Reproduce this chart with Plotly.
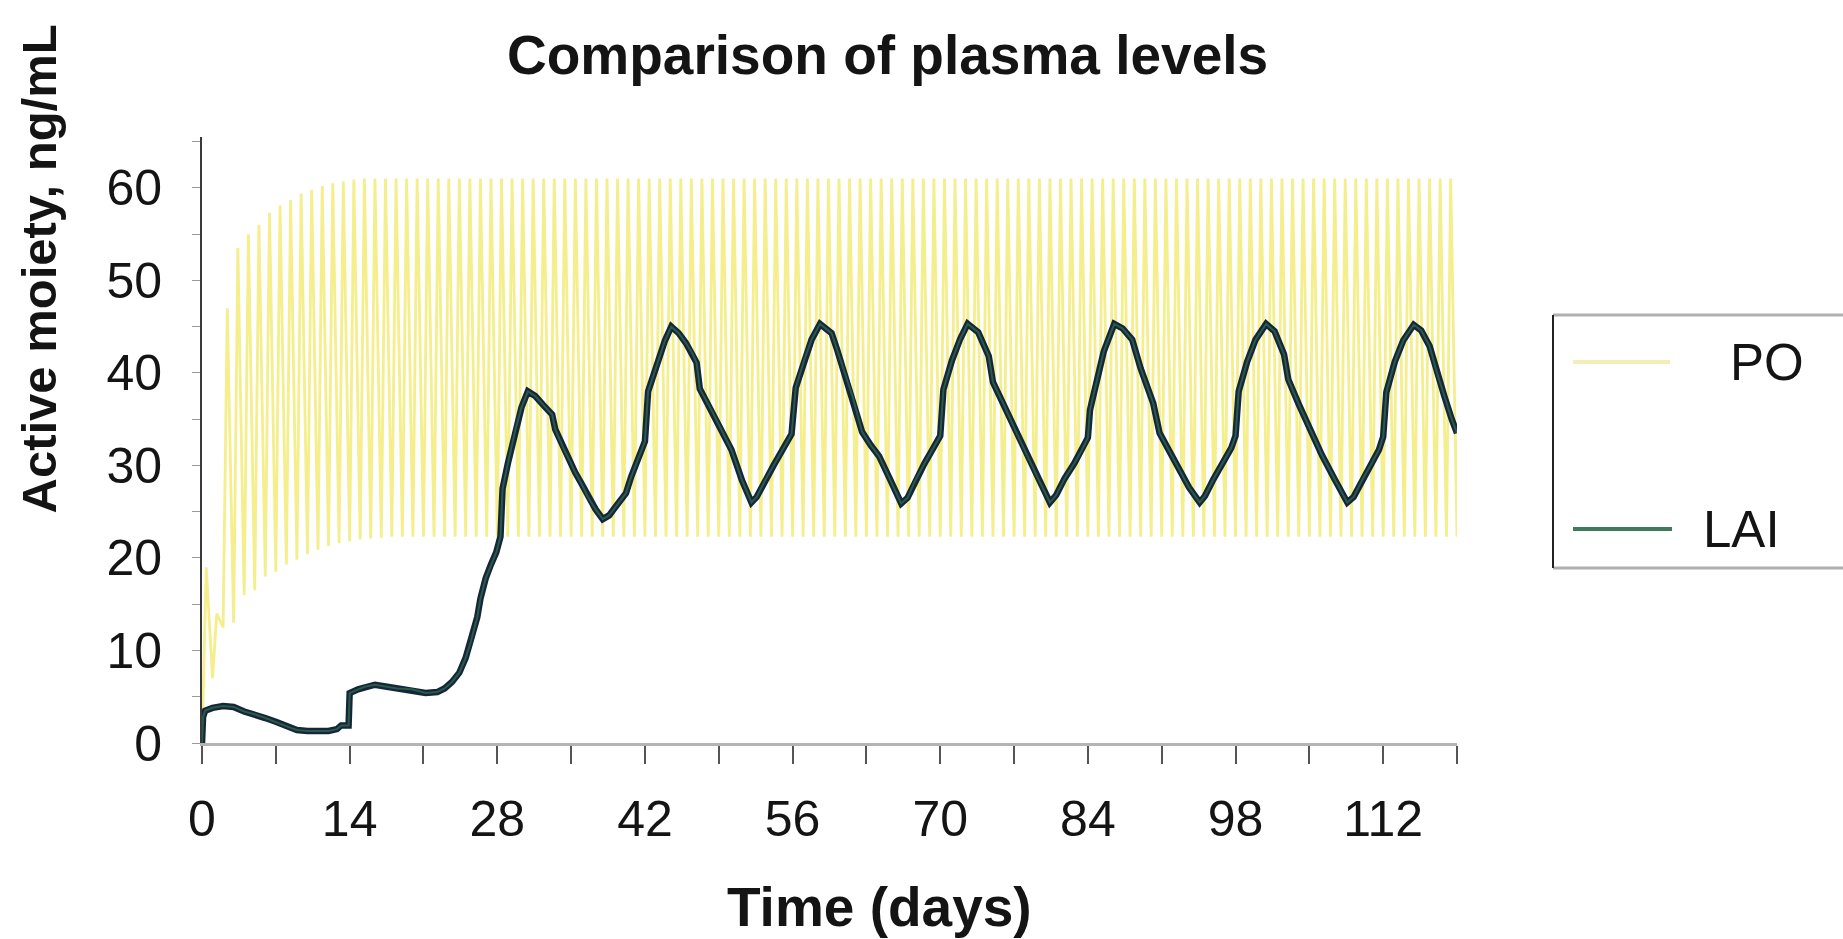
import plotly.graph_objects as go

# ---------------- data ----------------
# PO (oral, once daily): level at dosing time (trough) and post-dose peak, per day 0..119
po_dose_day = list(range(0, 120))
po_trough = [
    0, 7, 12.5, 13, 16, 16.5, 18, 18.5, 19.3, 19.8, 20.4, 20.9, 21.3, 21.6,
    21.8, 22.0, 22.1, 22.2, 22.3, 22.3, 22.3, 22.3, 22.3, 22.3, 22.3, 22.3, 22.3, 22.3,
    22.3, 22.3, 22.3, 22.3, 22.3, 22.3, 22.3, 22.3, 22.3, 22.3, 22.3, 22.3, 22.3, 22.3,
    22.3, 22.3, 22.3, 22.3, 22.3, 22.3, 22.3, 22.3, 22.3, 22.3, 22.3, 22.3, 22.3, 22.3,
    22.3, 22.3, 22.3, 22.3, 22.3, 22.3, 22.3, 22.3, 22.3, 22.3, 22.3, 22.3, 22.3, 22.3,
    22.3, 22.3, 22.3, 22.3, 22.3, 22.3, 22.3, 22.3, 22.3, 22.3, 22.3, 22.3, 22.3, 22.3,
    22.3, 22.3, 22.3, 22.3, 22.3, 22.3, 22.3, 22.3, 22.3, 22.3, 22.3, 22.3, 22.3, 22.3,
    22.3, 22.3, 22.3, 22.3, 22.3, 22.3, 22.3, 22.3, 22.3, 22.3, 22.3, 22.3, 22.3, 22.3,
    22.3, 22.3, 22.3, 22.3, 22.3, 22.3, 22.3, 22.3,
]
po_peak = [
    19, 14, 47, 53.5, 55, 56, 57.3, 58.1, 58.7, 59.4, 59.8, 60.2, 60.5, 60.7,
    60.9, 61, 61, 61, 61, 61, 61, 61, 61, 61, 61, 61, 61, 61,
    61, 61, 61, 61, 61, 61, 61, 61, 61, 61, 61, 61, 61, 61,
    61, 61, 61, 61, 61, 61, 61, 61, 61, 61, 61, 61, 61, 61,
    61, 61, 61, 61, 61, 61, 61, 61, 61, 61, 61, 61, 61, 61,
    61, 61, 61, 61, 61, 61, 61, 61, 61, 61, 61, 61, 61, 61,
    61, 61, 61, 61, 61, 61, 61, 61, 61, 61, 61, 61, 61, 61,
    61, 61, 61, 61, 61, 61, 61, 61, 61, 61, 61, 61, 61, 61,
    61, 61, 61, 61, 61, 61, 61, 61,
]
PO_TMAX = 0.4  # days from dose to peak

# LAI (long-acting injection, every 2 weeks)
lai_day = [
    0, 0.1, 0.3, 1, 2, 3, 4, 5, 6, 7, 7.8, 8.5, 9, 10, 11, 12, 12.8, 13.2, 13.9,
    14.0, 14.8, 15.5, 16.4, 17.4, 18.5, 19.9, 21.2, 22.3, 23.0, 23.7, 24.4, 25.0,
    25.5, 26.1, 26.4, 26.9, 27.4, 27.9, 28.3, 28.5, 29.0, 29.7, 30.3, 30.9, 31.6,
    32.3, 33.2, 33.5, 34.3, 35.0, 35.4, 36.0, 36.6, 37.3, 38.0, 38.6, 39.2, 40.2,
    40.7, 41.4, 42.0, 42.3, 42.8, 43.3, 43.9, 44.5, 45.2, 45.9, 46.5, 46.9, 47.2,
    48.3, 49.2, 50.2, 51.2, 52.1, 52.6, 53.4, 54.2, 55.0, 55.9, 56.3, 57.1, 57.8,
    58.6, 59.7, 60.2, 60.7, 61.7, 62.6, 63.4, 64.2, 65.2, 66.3, 66.9, 67.6, 68.5,
    69.3, 70.0, 70.3, 71.1, 71.9, 72.6, 73.6, 74.6, 75.0, 76.1, 77.2, 78.3, 79.4,
    80.4, 81.0, 81.8, 82.7, 83.4, 84.0, 84.2, 84.8, 85.5, 86.5, 87.3, 88.2, 89.0,
    90.2, 90.8, 91.7, 92.7, 93.6, 94.6, 95.1, 95.9, 96.8, 97.6, 98.0, 98.3, 99.1,
    99.9, 100.9, 101.7, 102.6, 103.0, 104.0, 105.1, 106.2, 107.4, 108.6, 109.2,
    110.0, 110.9, 111.6, 112.0, 112.3, 113.1, 113.9, 114.9, 115.6, 116.4, 117.0,
    117.8, 118.5, 119.0,
]
lai_level = [
    0, 2.8, 3.5, 3.8, 4.0, 3.9, 3.4, 3.1, 2.7, 2.3, 1.9, 1.6, 1.4, 1.3, 1.3, 1.3, 1.5, 1.9, 1.9,
    5.4, 5.8, 6.1, 6.3, 6.1, 5.9, 5.8, 5.4, 5.5, 5.9, 6.6, 7.6, 9.2,
    11.0, 13.6, 15.6, 17.8, 19.3, 20.6, 22.3, 27.5, 30.2, 33.8, 36.3, 38.0, 37.5,
    36.6, 35.5, 33.9, 31.8, 30.2, 29.2, 28.0, 26.6, 25.3, 24.2, 24.6, 25.5, 27.0,
    28.8, 30.8, 32.6, 38.0, 39.8, 41.5, 43.5, 45.0, 44.3, 43.2, 42.1, 41.1, 38.3,
    36.0, 34.0, 31.7, 28.4, 26.0, 26.6, 28.4, 30.0, 31.6, 33.4, 38.4, 41.4, 43.6,
    45.3, 44.3, 42.6, 40.7, 37.4, 33.6, 32.2, 31.0, 28.6, 25.9, 26.5, 28.3, 30.2,
    31.8, 33.2, 38.2, 41.3, 43.7, 45.3, 44.4, 41.8, 39.0, 36.4, 33.6, 30.9, 28.3,
    26.0, 26.8, 28.6, 30.2, 31.6, 33.0, 36.0, 38.9, 42.3, 45.3, 44.8, 43.6, 40.5,
    36.7, 33.5, 31.6, 29.5, 27.6, 26.0, 26.7, 28.5, 30.3, 31.9, 33.2, 38.0, 41.2,
    43.6, 45.3, 44.5, 42.0, 39.3, 36.6, 33.8, 31.1, 28.5, 26.0, 26.6,
    28.4, 30.2, 31.7, 33.1, 37.9, 41.2, 43.5, 45.2, 44.6, 42.9, 40.4,
    37.5, 35.0, 33.5,
]

x_tick_vals = [0, 7, 14, 21, 28, 35, 42, 49, 56, 63, 70, 77, 84, 91, 98, 105, 112, 119]
x_tick_text = ["0", "", "14", "", "28", "", "42", "", "56", "", "70", "", "84", "", "98", "", "112", ""]
y_tick_vals = [0, 5, 10, 15, 20, 25, 30, 35, 40, 45, 50, 55, 60, 65]
y_tick_text = ["0", "", "10", "", "20", "", "30", "", "40", "", "50", "", "60", ""]

TITLE = "Comparison of plasma levels"
X_TITLE = "Time (days)"
Y_TITLE = "Active moiety, ng/mL"
SERIES = ["PO", "LAI"]

# ---------------- build PO time course (trough -> peak per dose) ----------------
po_x, po_y = [], []
for d, tr, pk in zip(po_dose_day, po_trough, po_peak):
    po_x += [d, d + PO_TMAX]
    po_y += [tr, pk]

# ---------------- layout geometry (pixels) ----------------
W, H = 1843, 939
L, R, T, B = 202, 386, 137, 196
PW, PH = W - L - R, H - T - B


def px(x):
    return (x - L) / PW


def py(y):
    return (H - B - y) / PH


FONT = "Liberation Sans, Arial, sans-serif"
TXT = "#141414"

fig = go.Figure()
fig.add_trace(go.Scatter(
    x=po_x, y=po_y, mode="lines", name=SERIES[0], showlegend=False,
    line=dict(color="rgba(238,228,70,0.62)", width=2.8), hoverinfo="skip",
))
fig.add_trace(go.Scatter(
    x=lai_day, y=lai_level, mode="lines", name=SERIES[1], showlegend=False,
    line=dict(color="#15263a", width=6.5), hoverinfo="skip",
))
fig.add_trace(go.Scatter(
    x=lai_day, y=lai_level, mode="lines", name=SERIES[1] + " core", showlegend=False,
    line=dict(color="#2a5a48", width=2), hoverinfo="skip",
))

fig.update_layout(
    width=W, height=H, autosize=False,
    margin=dict(l=L, r=R, t=T, b=B, pad=0),
    paper_bgcolor="white", plot_bgcolor="white",
    showlegend=False,
    font=dict(family=FONT, color=TXT),
)
fig.update_xaxes(
    range=[0, 119], showgrid=False, zeroline=False,
    showline=True, linecolor="#b4b4b4", linewidth=3,
    ticks="outside", ticklen=18, tickwidth=1.5, tickcolor="#555555",
    tickvals=x_tick_vals, ticktext=x_tick_text,
    tickfont=dict(family=FONT, size=50, color=TXT), ticklabelstandoff=12,
)
fig.update_yaxes(
    range=[0, 65.5], showgrid=False, zeroline=False,
    showline=True, linecolor="#3a3a3a", linewidth=2,
    ticks="outside", ticklen=8, tickwidth=1, tickcolor="#9a9a9a",
    tickvals=y_tick_vals, ticktext=y_tick_text,
    tickfont=dict(family=FONT, size=50, color=TXT), ticklabelstandoff=20,
)

annotations = [
    dict(text="<b>%s</b>" % TITLE, x=px(887), y=py(55), xref="paper", yref="paper",
         xanchor="center", yanchor="middle", showarrow=False,
         font=dict(family=FONT, size=55, color=TXT)),
    dict(text="<b>%s</b>" % X_TITLE, x=px(879), y=py(907), xref="paper", yref="paper",
         xanchor="center", yanchor="middle", showarrow=False,
         font=dict(family=FONT, size=55, color=TXT)),
    dict(text="<b>%s</b>" % Y_TITLE, x=px(38), y=py(516), xref="paper", yref="paper",
         xanchor="center", yanchor="bottom", textangle=-90, showarrow=False,
         font=dict(family=FONT, size=49, color=TXT)),
    dict(text=SERIES[0], x=px(1728), y=py(362), xref="paper", yref="paper",
         xanchor="left", yanchor="middle", showarrow=False,
         font=dict(family=FONT, size=51, color=TXT)),
    dict(text=SERIES[1], x=px(1701), y=py(529), xref="paper", yref="paper",
         xanchor="left", yanchor="middle", showarrow=False,
         font=dict(family=FONT, size=51, color=TXT)),
]
shapes = [
    dict(type="line", xref="paper", yref="paper", x0=px(1553), x1=px(1850), y0=py(315), y1=py(315),
         line=dict(color="#b0b0b0", width=3)),
    dict(type="line", xref="paper", yref="paper", x0=px(1553), x1=px(1850), y0=py(568), y1=py(568),
         line=dict(color="#b0b0b0", width=3)),
    dict(type="line", xref="paper", yref="paper", x0=px(1553), x1=px(1553), y0=py(568), y1=py(315),
         line=dict(color="#222222", width=2)),
    dict(type="line", xref="paper", yref="paper", x0=px(1573), x1=px(1670), y0=py(362), y1=py(362),
         line=dict(color="#f2eeb4", width=4)),
    dict(type="line", xref="paper", yref="paper", x0=px(1573), x1=px(1672), y0=py(529), y1=py(529),
         line=dict(color="#3f7a5e", width=4)),
]
fig.update_layout(annotations=annotations, shapes=shapes)

fig.write_html(
    "out.html",
    config={"displayModeBar": False},
    post_script="document.body.style.margin='0';document.body.style.overflow='hidden';",
)
